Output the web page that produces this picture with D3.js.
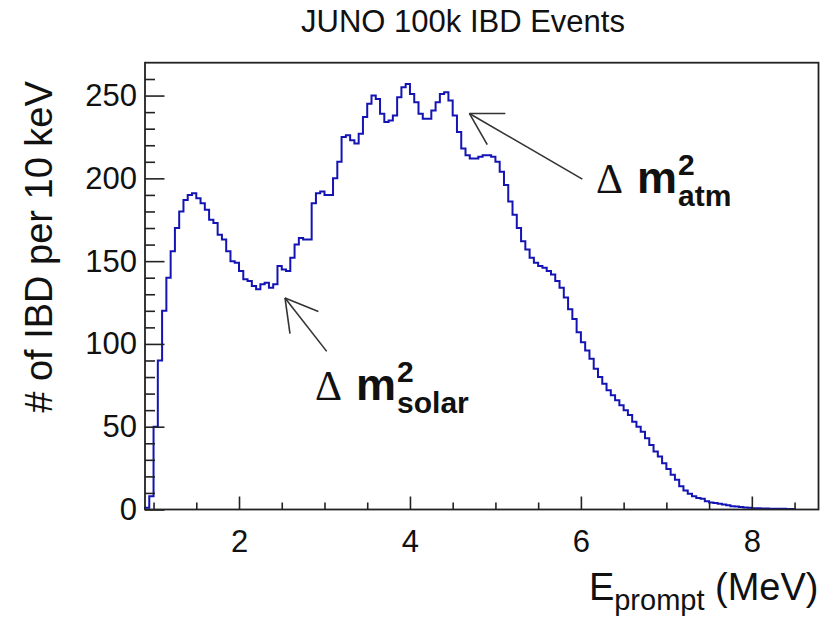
<!DOCTYPE html>
<html>
<head>
<meta charset="utf-8">
<script src="https://cdn.jsdelivr.net/npm/d3@7/dist/d3.min.js"></script>
<style>
  html, body { margin: 0; padding: 0; background: #fff; }
  svg text { font-family: "Liberation Sans", Arial, Helvetica, sans-serif; fill: #111; }
</style>
</head>
<body>
<svg id="chart" width="836" height="620"></svg>
<script>
// Prompt-energy spectrum, 0.05 MeV bins starting at 0.90 MeV (counts per 10 keV)
const binStart = 0.90;
const binWidth = 0.05;
const counts = [
  1, 8, 50, 90, 120, 140, 156, 170, 180, 187,            // 0.90 - 1.35
  190, 191, 188, 185, 181, 175, 173, 166, 163, 156,      // 1.40 - 1.85
  150, 149, 144, 139, 138, 135, 133, 136, 137, 134,      // 1.90 - 2.35
  136, 147, 145, 144, 152, 160, 164, 163, 163, 185,      // 2.40 - 2.85
  191, 192, 190, 190, 200, 210, 225, 226, 223, 221,      // 2.90 - 3.35
  227, 237, 245, 250, 248, 239, 234, 235, 238, 249,      // 3.40 - 3.85
  255, 257, 251, 246, 239, 236, 236, 241, 246, 251,      // 3.90 - 4.35
  252, 247, 238, 228, 218, 214, 212, 212, 213, 214,      // 4.40 - 4.85
  214, 213, 210, 204, 196, 186, 178, 170, 162, 157,      // 4.90 - 5.35
  152, 149, 147, 146, 144, 142, 138, 134, 128, 121,      // 5.40 - 5.85
  115, 107, 101, 96, 91, 85, 80, 76, 72, 69,             // 5.90 - 6.35
  66, 63, 60, 57, 53, 50, 47, 43, 39, 35,                // 6.40 - 6.85
  32, 28, 24.5, 21, 18, 14, 11.5, 9.5, 8, 7,             // 6.90 - 7.35
  6.5, 5, 4.3, 4, 3.5, 3, 2.5, 2, 1.8, 1.5,              // 7.40 - 7.85
  1.2, 1, 0.7, 0.7, 0.6, 0.6, 0.5, 0.5, 0.4, 0.4,        // 7.90 - 8.35
  0.3, 0.3                                               // 8.40 - 8.45
];

// Axis ticks
const xMajorTicks = [2, 4, 6, 8];
const xMinorTicks = [1, 1.5, 2.5, 3, 3.5, 4.5, 5, 5.5, 6.5, 7, 7.5, 8.5];
const yMajorTicks = [0, 50, 100, 150, 200, 250];
const yMinorTicks = [10, 20, 30, 40, 60, 70, 80, 90, 110, 120, 130, 140,
                     160, 170, 180, 190, 210, 220, 230, 240, 260];

const titleText = "JUNO 100k IBD Events";
const yTitle = "# of IBD per 10 keV";

const bins = counts.map((c, i) => ({
  x0: binStart + i * binWidth,
  x1: binStart + (i + 1) * binWidth,
  n: c
}));

const frame = { left: 145, right: 818.5, top: 62.7, bottom: 509.5 };
const xMax = 8.78;
const yMax = d3.max(counts) * 1.05;

const svg = d3.select("#chart");

const x = d3.scaleLinear().domain([binStart, xMax]).range([frame.left, frame.right]);
const y = d3.scaleLinear().domain([0, yMax]).range([frame.bottom, frame.top]);

// Title
svg.append("text")
  .attr("x", 463).attr("y", 32)
  .attr("text-anchor", "middle")
  .style("font-size", "31px")
  .text(titleText);

// Histogram outline (step shape)
const path = d3.path();
path.moveTo(x(bins[0].x0), y(0));
bins.forEach(b => {
  path.lineTo(x(b.x0), y(b.n));
  path.lineTo(x(b.x1), y(b.n));
});
path.lineTo(x(bins[bins.length - 1].x1), y(0));

svg.append("path")
  .attr("d", path.toString())
  .attr("fill", "none")
  .attr("stroke", "#1414b4")
  .attr("stroke-width", 2)
  .attr("stroke-linejoin", "miter");

// Axes (ticks pointing inward)
const tickFont = "31px";
const gx = svg.append("g").attr("transform", `translate(0,${frame.bottom})`);
gx.call(d3.axisBottom(x).tickValues(xMajorTicks).tickSize(-13).tickPadding(20).tickFormat(d3.format("d")));
const gxMinor = svg.append("g").attr("transform", `translate(0,${frame.bottom})`);
gxMinor.call(d3.axisBottom(x).tickValues(xMinorTicks).tickSize(-7).tickFormat(""));

const gy = svg.append("g").attr("transform", `translate(${frame.left},0)`);
gy.call(d3.axisLeft(y).tickValues(yMajorTicks).tickSize(-19.5).tickPadding(8).tickFormat(d3.format("d")));
const gyMinor = svg.append("g").attr("transform", `translate(${frame.left},0)`);
gyMinor.call(d3.axisLeft(y).tickValues(yMinorTicks).tickSize(-10).tickFormat(""));

[gx, gxMinor, gy, gyMinor].forEach(g => {
  g.select(".domain").remove();
  g.selectAll(".tick line").attr("stroke", "#222").attr("stroke-width", 1.6);
  g.selectAll(".tick text")
    .style("font-size", tickFont)
    .style("font-family", "'Liberation Sans', Arial, sans-serif")
    .attr("fill", "#111");
});

// Frame box
svg.append("rect")
  .attr("x", frame.left).attr("y", frame.top)
  .attr("width", frame.right - frame.left)
  .attr("height", frame.bottom - frame.top)
  .attr("fill", "none")
  .attr("stroke", "#222")
  .attr("stroke-width", 1.8);

// Y axis title
svg.append("text")
  .attr("transform", `translate(52,247) rotate(-90)`)
  .attr("text-anchor", "middle")
  .style("font-size", "38px")
  .text(yTitle);

// X axis title: E_prompt (MeV)
const xt = svg.append("text")
  .attr("x", frame.right).attr("y", 600)
  .attr("text-anchor", "end")
  .style("font-size", "38px");
xt.append("tspan").text("E");
xt.append("tspan").attr("dy", 10).style("font-size", "29px").text("prompt");
xt.append("tspan").attr("dy", -10).text(" (MeV)");

// Annotations: Δm² labels with arrows
function arrow(tipE, tipN, tailE, tailN) {
  const tx = x(tipE), ty = y(tipN), ex = x(tailE), ey = y(tailN);
  const ang = Math.atan2(ey - ty, ex - tx);
  const head = 36, spread = Math.PI / 6;
  const g = svg.append("g").attr("stroke", "#333").attr("stroke-width", 1.6).attr("fill", "none");
  g.append("line").attr("x1", tx).attr("y1", ty).attr("x2", ex).attr("y2", ey);
  [-spread, spread].forEach(s => {
    g.append("line")
      .attr("x1", tx).attr("y1", ty)
      .attr("x2", tx + head * Math.cos(ang + s))
      .attr("y2", ty + head * Math.sin(ang + s));
  });
}

function deltaLabel(px, py, sub) {
  const g = svg.append("g");
  const d = g.append("text")
    .attr("x", px).attr("y", py)
    .style("font-family", "'Liberation Serif', 'Times New Roman', serif")
    .style("font-size", "42px")
    .text("\u0394");
  const dw = d.node().getComputedTextLength();
  const mx = px + dw + 14;
  const m = g.append("text")
    .attr("x", mx).attr("y", py)
    .style("font-size", "45px").style("font-weight", "bold")
    .text("m");
  const mw = m.node().getComputedTextLength();
  g.append("text")
    .attr("x", mx + mw + 1).attr("y", py - 18)
    .style("font-size", "30px").style("font-weight", "bold")
    .text("2");
  g.append("text")
    .attr("x", mx + mw + 1).attr("y", py + 13)
    .style("font-size", "30px").style("font-weight", "bold")
    .text(sub);
}

arrow(4.695, 239.2, 6.017, 199.5);
arrow(2.538, 127.8, 3.026, 95.5);
deltaLabel(596, 193, "atm");
deltaLabel(315, 400, "solar");
</script>
</body>
</html>
